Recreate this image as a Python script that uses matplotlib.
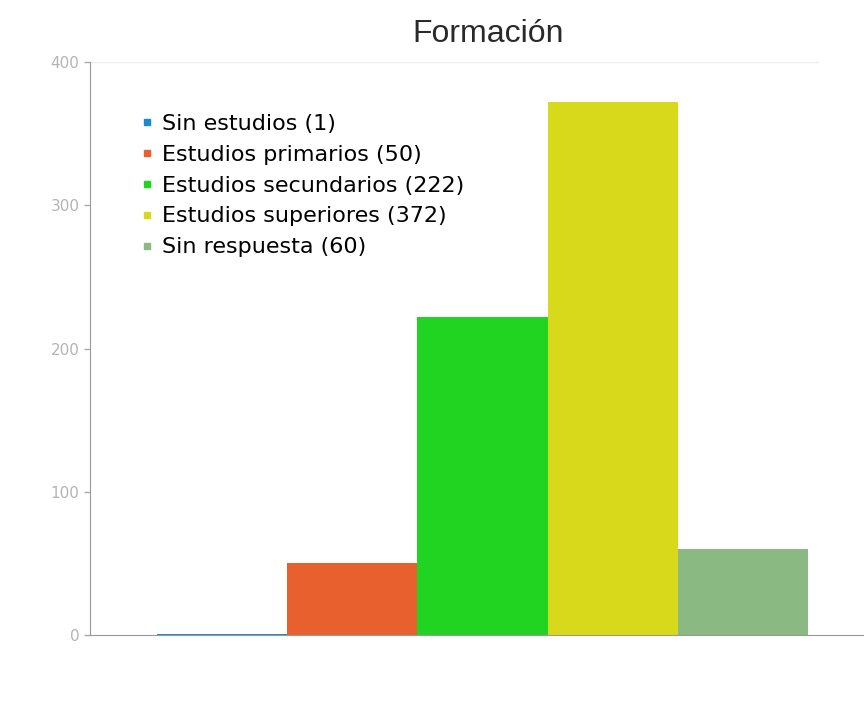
import matplotlib.pyplot as plt
from matplotlib.lines import Line2D

TITLE = "Formación"
CATEGORIES = ["Sin estudios", "Estudios primarios", "Estudios secundarios",
              "Estudios superiores", "Sin respuesta"]
VALUES = [1, 50, 222, 372, 60]
COLORS = ["#1a8ad6", "#e8602e", "#22d422", "#d9d91c", "#8ab982"]
YTICKS = [0, 100, 200, 300, 400]

fig = plt.figure(figsize=(8.64, 7.16), dpi=100)
ax = fig.add_axes([0.104, 0.113, 0.896, 0.80])

x = list(range(len(VALUES)))
ax.bar(x, VALUES, width=1.0, color=COLORS, align="center")
ax.set_xlim(-1.014, 4.93)
ax.set_ylim(0, 400)

# faint line at the top
ax.axhline(400, xmin=0, xmax=0.94, color="#eeeeee", linewidth=1)

for side in ["top", "right"]:
    ax.spines[side].set_visible(False)
ax.spines["left"].set_color("#999999")
ax.spines["bottom"].set_color("#999999")
ax.set_xticks([])
ax.set_yticks(YTICKS)
ax.tick_params(axis="y", colors="#aaaaaa", labelcolor="#b4b4b4",
               labelsize=11, length=4, width=1)

handles = [Line2D([0], [0], marker="s", linestyle="none", markersize=4,
                  color=c) for c in COLORS]
labels = [f"{c} ({v})" for c, v in zip(CATEGORIES, VALUES)]
ax.legend(handles, labels, loc="upper left", bbox_to_anchor=(0.04, 0.945),
          frameon=False, handletextpad=0.35, labelspacing=0.49,
          handlelength=0.6, prop={"family": "DejaVu Sans", "size": 16})

fig.text(0.565, 0.953, TITLE, ha="center", va="center", fontsize=23,
         color="#2a2a2a", family="Liberation Sans")

fig.savefig("out.png", dpi=100)
